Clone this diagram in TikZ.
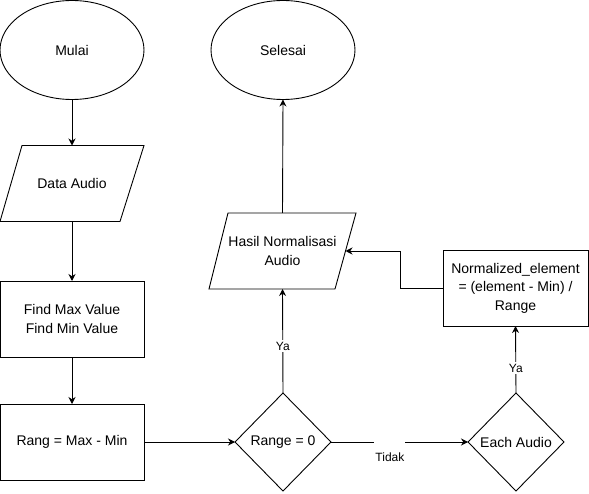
\documentclass[tikz,border=0pt]{standalone}
\usepackage{fontspec}
\setmainfont{Liberation Sans}
\usetikzlibrary{shapes.geometric,arrows.meta,calc}
\begin{document}
\begin{tikzpicture}[x=1pt,y=-1pt,
  every node/.style={inner sep=0pt, outer sep=0pt, align=center, font=\fontsize{14}{18.5}\selectfont},
  term/.style={draw, ellipse, line width=0.9pt, minimum width=144pt, minimum height=99pt},
  procbox/.style={draw, rectangle, line width=0.9pt, minimum height=76pt},
  iobox/.style={rectangle, minimum height=76pt},
  decision/.style={draw, diamond, line width=0.9pt, minimum width=96pt, minimum height=98pt},
  conn/.style={line width=0.9pt, -{Stealth[length=7pt,width=7pt]}},
  lbl/.style={fill=white, font=\fontsize{12}{14}\selectfont, inner xsep=1pt}
]
\useasboundingbox (0,0) rectangle (589,494);

\node[term] (mulai) at (72,50) {Mulai};
\node[term] (selesai) at (283,50) {Selesai};

\node[iobox, minimum width=144pt] (data) at (72,183.5) {Data Audio};
\draw[line width=0.9pt] ($(data.north west)+(22,0)$) -- (data.north east) -- ($(data.south east)+(-24,0)$) -- (data.south west) -- cycle;

\node[procbox, minimum width=144pt] (find) at (72,319) {Find Max Value\\Find Min Value};
\node[procbox, minimum width=144pt] (rang) at (72,442) {Rang = Max - Min};

\node[decision] (range) at (283,442) {Range = 0};
\node[decision] (each) at (516,442) {Each Audio};

\node[iobox, minimum width=147pt] (hasil) at (282.5,251) {Hasil Normalisasi\\Audio};
\draw[line width=0.9pt] ($(hasil.north west)+(19,0)$) -- (hasil.north east) -- ($(hasil.south east)+(-21,0)$) -- (hasil.south west) -- cycle;
\coordinate (hasilR) at ($(hasil.east)+(-10.5,0)$);

\node[procbox, minimum width=145pt] (norm) at (515.5,288) {Normalized\_element\\= (element - Min) /\\Range};
\coordinate (bend) at (400,288);

\draw[conn] (mulai.south) -- (data.north);
\draw[conn] (data.south) -- (find.north);
\draw[conn] (find.south) -- (rang.north);
\draw[conn] (rang.east) -- (range.west);
\draw[conn] (range.east) -- node[lbl, pos=0.43, yshift=-15pt, minimum height=36pt] {Tidak} (each.west);
\draw[conn] (range.north) -- node[lbl, pos=0.45, inner ysep=2pt] {Ya} (hasil.south);
\draw[conn] (each.north) -- node[lbl, pos=0.37, inner ysep=2pt] {Ya} (norm.south);
\draw[conn] (norm.west) -- (bend) |- (hasilR);
\draw[conn] (hasil.north) -- (selesai.south);
\end{tikzpicture}
\end{document}
